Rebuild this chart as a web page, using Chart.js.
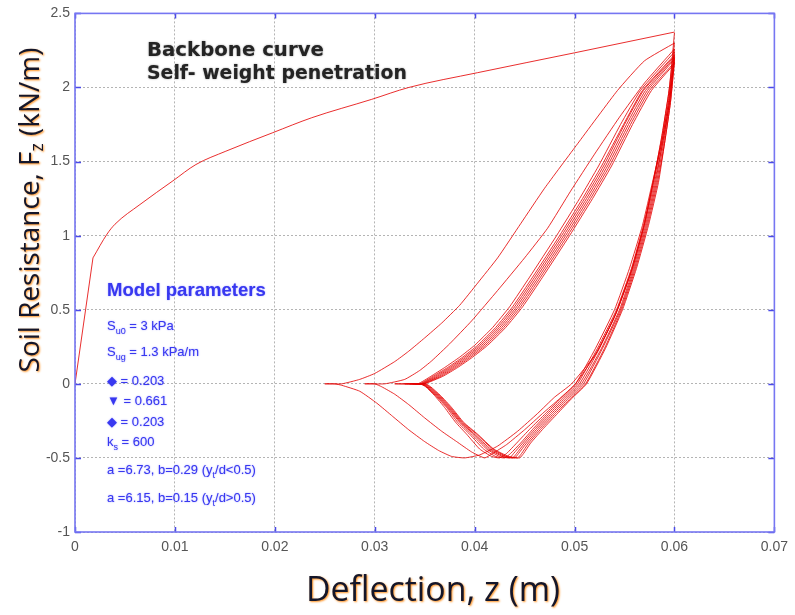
<!DOCTYPE html>
<html>
<head>
<meta charset="utf-8">
<script src="https://cdn.jsdelivr.net/npm/chart.js@4.4.1/dist/chart.umd.min.js"></script>
<style>
  body { margin: 0; background: #fff; }
  #wrap { width: 795px; height: 615px; }
</style>
</head>
<body>
<div id="wrap"><canvas id="myChart" width="795" height="615"></canvas></div>
<script>
// tick values and labels
var xTickValues = [0, 0.01, 0.02, 0.03, 0.04, 0.05, 0.06, 0.07];
var xTickLabels = ['0', '0.01', '0.02', '0.03', '0.04', '0.05', '0.06', '0.07'];
var yTickValues = [-1, -0.5, 0, 0.5, 1, 1.5, 2, 2.5];
var yTickLabels = ['-1', '-0.5', '0', '0.5', '1', '1.5', '2', '2.5'];

// backbone curve (z [m], Fz [kN/m])
var backbone = [[0, 0], [0.0018, 0.85], [0.0032, 1.01], [0.004, 1.077], [0.0065, 1.21], [0.0098, 1.37],
  [0.0121, 1.48], [0.0151, 1.57], [0.0198, 1.695], [0.0237, 1.796], [0.0297, 1.92], [0.0334, 2.0],
  [0.0403, 2.1], [0.05, 2.234], [0.06, 2.374]];

// cyclic loops: unload from z=0.06, suction, separation, reload
var cycle1 = [[0.06, 2.37], [0.0595, 2.0], [0.0588, 1.7], [0.058, 1.4], [0.057, 1.08], [0.0557, 0.76], [0.054, 0.45],
  [0.0521, 0.2], [0.0497, 0], [0.048, -0.09], [0.0463, -0.2], [0.0443, -0.32], [0.0423, -0.42], [0.0405, -0.48],
  [0.039, -0.5], [0.0377, -0.49], [0.0364, -0.45], [0.035, -0.39], [0.0334, -0.31], [0.0318, -0.22], [0.0302, -0.13],
  [0.0285, -0.05], [0.0267, -0.01], [0.026, 0], [0.025, 0],
  [0.0267, 0], [0.0285, 0.03], [0.03, 0.07], [0.032, 0.15], [0.0334, 0.22], [0.035, 0.31], [0.0367, 0.41],
  [0.0385, 0.53], [0.0403, 0.68], [0.0423, 0.85], [0.0446, 1.08], [0.047, 1.32], [0.0503, 1.62], [0.0543, 1.98],
  [0.057, 2.18], [0.06, 2.3]];
var cycle2 = [[0.06, 2.3], [0.0594, 1.95], [0.0587, 1.65], [0.0579, 1.38], [0.057, 1.08], [0.0557, 0.77], [0.0541, 0.47],
  [0.0522, 0.21], [0.0501, 0], [0.0485, -0.1], [0.0468, -0.2], [0.045, -0.31], [0.0432, -0.41], [0.0418, -0.47],
  [0.041, -0.5], [0.0397, -0.46], [0.0382, -0.39], [0.0367, -0.32], [0.035, -0.23], [0.0334, -0.14], [0.032, -0.07],
  [0.0307, -0.02], [0.03, 0], [0.029, 0],
  [0.031, 0], [0.033, 0.03], [0.0345, 0.09], [0.0357, 0.155], [0.0375, 0.27], [0.0397, 0.425], [0.0423, 0.63],
  [0.045, 0.85], [0.0473, 1.05], [0.0496, 1.3], [0.052, 1.55], [0.0545, 1.8], [0.057, 2.03], [0.06, 2.26]];
var cycle3 = [[0.06, 2.26], [0.0594, 1.9], [0.0587, 1.62], [0.0578, 1.36], [0.0568, 1.07], [0.0555, 0.78], [0.054, 0.5],
  [0.0521, 0.24], [0.0501, 0], [0.0486, -0.1], [0.0471, -0.2], [0.0456, -0.3], [0.0442, -0.4], [0.0432, -0.47],
  [0.0425, -0.5], [0.0417, -0.49], [0.0405, -0.44], [0.0392, -0.34], [0.0381, -0.26], [0.037, -0.16], [0.036, -0.08],
  [0.0351, -0.02], [0.0345, 0], [0.032, 0],
  [0.0343, 0], [0.0356, 0.05], [0.037, 0.11], [0.0385, 0.18], [0.04, 0.26], [0.0418, 0.38], [0.0435, 0.52],
  [0.0455, 0.72], [0.0482, 1.0], [0.0505, 1.25], [0.0524, 1.47], [0.0546, 1.75], [0.0566, 1.98], [0.06, 2.24]];
var cycle4 = [[0.06, 2.24], [0.0594, 1.9], [0.0587, 1.62], [0.0579, 1.36], [0.0569, 1.07], [0.0557, 0.78], [0.0542, 0.5],
  [0.0523, 0.24], [0.0503, 0], [0.0488, -0.1], [0.0473, -0.2], [0.0459, -0.3], [0.0446, -0.4], [0.0436, -0.47],
  [0.043, -0.5], [0.0421, -0.49], [0.0409, -0.44], [0.0395, -0.34], [0.0383, -0.26], [0.0372, -0.16], [0.0361, -0.08],
  [0.0352, -0.02], [0.0346, 0], [0.033, 0],
  [0.0345, 0], [0.0358, 0.05], [0.0373, 0.11], [0.0388, 0.18], [0.0403, 0.26], [0.0421, 0.38], [0.0438, 0.52],
  [0.0458, 0.72], [0.0485, 1.0], [0.0508, 1.25], [0.0527, 1.47], [0.0549, 1.75], [0.0568, 1.98], [0.06, 2.22]];
var cycle5 = [[0.06, 2.22], [0.0595, 1.9], [0.0588, 1.62], [0.058, 1.36], [0.057, 1.07], [0.0558, 0.78], [0.0543, 0.5],
  [0.0525, 0.24], [0.0505, 0], [0.049, -0.1], [0.0475, -0.2], [0.0461, -0.3], [0.0448, -0.4], [0.0439, -0.47],
  [0.0435, -0.5], [0.0425, -0.49], [0.0412, -0.44], [0.0397, -0.34], [0.0385, -0.26], [0.0373, -0.16], [0.0362, -0.08],
  [0.0352, -0.02], [0.0347, 0], [0.0335, 0],
  [0.0346, 0], [0.036, 0.05], [0.0375, 0.11], [0.039, 0.18], [0.0405, 0.26], [0.0423, 0.38], [0.044, 0.52],
  [0.046, 0.72], [0.0487, 1.0], [0.051, 1.25], [0.0529, 1.47], [0.055, 1.75], [0.0569, 1.98], [0.06, 2.21]];
var cycle6 = [[0.06, 2.21], [0.0595, 1.9], [0.0588, 1.62], [0.0581, 1.36], [0.0571, 1.07], [0.0559, 0.78], [0.0545, 0.5],
  [0.0527, 0.24], [0.0507, 0], [0.0492, -0.1], [0.0477, -0.2], [0.0463, -0.3], [0.045, -0.4], [0.0442, -0.47],
  [0.0438, -0.5], [0.0428, -0.49], [0.0414, -0.44], [0.0399, -0.34], [0.0386, -0.26], [0.0374, -0.16], [0.0363, -0.08],
  [0.0353, -0.02], [0.0348, 0], [0.0338, 0],
  [0.0347, 0], [0.0362, 0.05], [0.0377, 0.11], [0.0392, 0.18], [0.0407, 0.26], [0.0425, 0.38], [0.0442, 0.52],
  [0.0462, 0.72], [0.0489, 1.0], [0.0512, 1.25], [0.0531, 1.47], [0.0552, 1.75], [0.0571, 1.98], [0.06, 2.2]];
var cycle7 = [[0.06, 2.2], [0.0595, 1.9], [0.0589, 1.62], [0.0582, 1.36], [0.0572, 1.07], [0.056, 0.78], [0.0546, 0.5],
  [0.0528, 0.24], [0.0509, 0], [0.0494, -0.1], [0.0479, -0.2], [0.0465, -0.3], [0.0452, -0.4], [0.0444, -0.47],
  [0.044, -0.5], [0.043, -0.49], [0.0416, -0.44], [0.04, -0.34], [0.0387, -0.26], [0.0375, -0.16], [0.0364, -0.08],
  [0.0354, -0.02], [0.0349, 0], [0.034, 0],
  [0.0348, 0], [0.0364, 0.05], [0.0379, 0.11], [0.0394, 0.18], [0.0409, 0.26], [0.0427, 0.38], [0.0444, 0.52],
  [0.0464, 0.72], [0.0491, 1.0], [0.0514, 1.25], [0.0533, 1.47], [0.0554, 1.75], [0.0573, 1.98], [0.06, 2.19]];
var cycle8 = [[0.06, 2.19], [0.0596, 1.9], [0.059, 1.62], [0.0583, 1.36], [0.0573, 1.07], [0.0561, 0.78], [0.0547, 0.5],
  [0.053, 0.24], [0.0511, 0], [0.0496, -0.1], [0.0481, -0.2], [0.0467, -0.3], [0.0454, -0.4], [0.0447, -0.47],
  [0.0443, -0.5], [0.0432, -0.49], [0.0418, -0.44], [0.0402, -0.34], [0.0388, -0.26], [0.0376, -0.16], [0.0365, -0.08],
  [0.0355, -0.02], [0.035, 0], [0.0342, 0],
  [0.0349, 0], [0.0366, 0.05], [0.0381, 0.11], [0.0396, 0.18], [0.0411, 0.26], [0.0429, 0.38], [0.0446, 0.52],
  [0.0466, 0.72], [0.0493, 1.0], [0.0516, 1.25], [0.0535, 1.47], [0.0556, 1.75], [0.0575, 1.98], [0.06, 2.17]];
var cycle9 = [[0.06, 2.17], [0.0596, 1.9], [0.059, 1.62], [0.0584, 1.36], [0.0574, 1.07], [0.0562, 0.78], [0.0548, 0.5],
  [0.0531, 0.24], [0.0512, 0], [0.0497, -0.1], [0.0483, -0.2], [0.0469, -0.3], [0.0456, -0.4], [0.0449, -0.47],
  [0.0445, -0.5], [0.0434, -0.49], [0.0419, -0.44], [0.0403, -0.34], [0.0389, -0.26], [0.0377, -0.16], [0.0366, -0.08],
  [0.0356, -0.02], [0.0351, 0], [0.0344, 0],
  [0.035, 0], [0.0368, 0.05], [0.0383, 0.11], [0.0398, 0.18], [0.0413, 0.26], [0.0431, 0.38], [0.0448, 0.52],
  [0.0468, 0.72], [0.0495, 1.0], [0.0518, 1.25], [0.0537, 1.47], [0.0558, 1.75], [0.0577, 1.98], [0.06, 2.16]];

var cycles = [cycle1, cycle2, cycle3, cycle4, cycle5, cycle6, cycle7, cycle8, cycle9];

function toPoints(arr) {
  return arr.map(function (p) { return { x: p[0], y: p[1] }; });
}

function lineSet(points, extra) {
  var ds = {
    data: toPoints(points),
    showLine: true,
    borderColor: 'rgba(228,0,0,0.82)',
    borderWidth: 1,
    pointRadius: 0,
    fill: false
  };
  for (var k in extra) ds[k] = extra[k];
  return ds;
}

// backbone: straight initial elastic leg, then a smooth curve (kink kept sharp)
var datasets = [
  lineSet(backbone.slice(0, 2), { tension: 0 }),
  lineSet(backbone.slice(1), { cubicInterpolationMode: 'monotone' })
];
cycles.forEach(function (c) {
  datasets.push(lineSet(c, { tension: 0.15 }));
});

function fitSize(ctx, text, weight, family, targetW) {
  ctx.font = weight + ' 100px ' + family;
  return 100 * targetW / ctx.measureText(text).width;
}

// draws [text, isSub] parts starting at x, baseline y
function drawParts(ctx, x, y, parts, size, sub, family, weight) {
  parts.forEach(function (p) {
    if (p[1]) {
      ctx.font = weight + ' ' + sub + 'px ' + family;
      ctx.fillText(p[0], x, y + 4);
    } else {
      ctx.font = weight + ' ' + size + 'px ' + family;
      ctx.fillText(p[0], x, y);
    }
    x += ctx.measureText(p[0]).width;
  });
}
function partsWidth(ctx, parts, size, sub, family, weight) {
  var w = 0;
  parts.forEach(function (p) {
    ctx.font = weight + ' ' + (p[1] ? sub : size) + 'px ' + family;
    w += ctx.measureText(p[0]).width;
  });
  return w;
}

var decor = {
  id: 'decor',
  beforeDraw: function (chart) {
    var ctx = chart.ctx;
    ctx.save();
    ctx.fillStyle = '#fff';
    ctx.fillRect(0, 0, chart.width, chart.height);
    ctx.restore();
  },
  afterDraw: function (chart) {
    var ctx = chart.ctx, a = chart.chartArea;
    var xs = chart.scales.x, ys = chart.scales.y;
    ctx.save();
    // inward ticks
    ctx.strokeStyle = '#4a4ae8';
    ctx.lineWidth = 1.5;
    ctx.beginPath();
    xTickValues.forEach(function (v) {
      var px = Math.round(xs.getPixelForValue(v)) + 0.5;
      ctx.moveTo(px, a.bottom); ctx.lineTo(px, a.bottom - 5);
      ctx.moveTo(px, a.top); ctx.lineTo(px, a.top + 5);
    });
    yTickValues.forEach(function (v) {
      var py = Math.round(ys.getPixelForValue(v)) + 0.5;
      ctx.moveTo(a.left, py); ctx.lineTo(a.left + 6, py);
      ctx.moveTo(a.right, py); ctx.lineTo(a.right - 6, py);
    });
    ctx.stroke();
    // frame
    ctx.strokeStyle = '#7676f2';
    ctx.lineWidth = 1.6;
    ctx.strokeRect(a.left, a.top, a.right - a.left, a.bottom - a.top);

    // annotations
    ctx.fillStyle = '#242424';
    ctx.textBaseline = 'alphabetic';
    ctx.textAlign = 'left';
    ctx.shadowColor = 'rgba(0,0,0,0.4)';
    ctx.shadowBlur = 2;
    var fam = '"DejaVu Sans"';
    var s1 = fitSize(ctx, 'Backbone curve', 'bold', fam, 177);
    ctx.font = 'bold ' + s1 + 'px ' + fam;
    ctx.fillText('Backbone curve', 147, 56);
    var s2 = fitSize(ctx, 'Self- weight penetration', 'bold', fam, 260);
    ctx.font = 'bold ' + s2 + 'px ' + fam;
    ctx.fillText('Self- weight penetration', 147, 79);

    // model parameters
    ctx.shadowColor = 'rgba(40,40,255,0.5)';
    ctx.shadowBlur = 1.5;
    ctx.fillStyle = '#3838f0';
    var fam2 = '"Liberation Sans"';
    var s3 = fitSize(ctx, 'Model parameters', 'bold', fam2, 159);
    ctx.font = 'bold ' + s3 + 'px ' + fam2;
    ctx.fillText('Model parameters', 107, 296);
    var lines = [
      [[['S', 0], ['u0', 1], [' = 3 kPa', 0]], 330],
      [[['S', 0], ['ug', 1], [' = 1.3 kPa/m', 0]], 356],
      [[['\u25C6 = 0.203', 0]], 385],
      [[['\u25BC = 0.661', 0]], 405],
      [[['\u25C6 = 0.203', 0]], 426],
      [[['k', 0], ['s', 1], [' = 600', 0]], 446],
      [[['a =6.73, b=0.29 (y', 0], ['t', 1], ['/d<0.5)', 0]], 474],
      [[['a =6.15, b=0.15 (y', 0], ['t', 1], ['/d>0.5)', 0]], 502]
    ];
    lines.forEach(function (l) {
      drawParts(ctx, 107, l[1], l[0], 13, 9, fam2, 'normal');
    });

    // axis titles
    var fam3 = '"Open Sans"';
    ctx.shadowColor = 'rgba(255,140,20,0.95)';
    ctx.shadowBlur = 2;
    ctx.shadowOffsetX = 1;
    ctx.shadowOffsetY = 1;
    ctx.fillStyle = '#14162a';
    var xt = 'Deflection, z (m)';
    var s4 = fitSize(ctx, xt, '500', fam3, 254);
    ctx.font = '500 ' + s4 + 'px ' + fam3;
    ctx.textAlign = 'center';
    ctx.fillText(xt, 433, 601);

    ctx.textAlign = 'left';
    var yParts = [['Soil Resistance, F', 0], ['z', 1], [' (kN/m)', 0]];
    var base = 24, sub = 15;
    var w = partsWidth(ctx, yParts, base, sub, fam3, '500');
    var k = 325 / w;
    ctx.translate(39, 210);
    ctx.rotate(-Math.PI / 2);
    var tw = partsWidth(ctx, yParts, base * k, sub * k, fam3, '500');
    drawParts(ctx, -tw / 2, 0, yParts, base * k, sub * k, fam3, '500');
    ctx.restore();
  }
};

var ctx = document.getElementById('myChart');
var myChart = new Chart(ctx, {
  type: 'scatter',
  data: { datasets: datasets },
  options: {
    responsive: false,
    animation: false,
    layout: { padding: { top: 13, right: 17, left: 0, bottom: 0 } },
    plugins: { legend: { display: false }, tooltip: { enabled: false } },
    scales: {
      x: {
        type: 'linear',
        min: 0,
        max: 0.07,
        afterBuildTicks: function (s) { s.ticks = xTickValues.map(function (v) { return { value: v }; }); },
        afterFit: function (s) { s.height = 83; },
        ticks: {
          padding: 7,
          color: '#555',
          font: { family: '"Liberation Sans"', size: 14 },
          callback: function (v, i) { return xTickLabels[i]; }
        },
        grid: { color: '#b4b4b4', drawTicks: false },
        border: { display: false, dash: [2, 2] }
      },
      y: {
        type: 'linear',
        min: -1,
        max: 2.5,
        afterBuildTicks: function (s) { s.ticks = yTickValues.map(function (v) { return { value: v }; }); },
        afterFit: function (s) { s.width = 75; },
        ticks: {
          padding: 5,
          color: '#555',
          font: { family: '"Liberation Sans"', size: 14 },
          callback: function (v, i) { return yTickLabels[i]; }
        },
        grid: { color: '#b4b4b4', drawTicks: false },
        border: { display: false, dash: [2, 2] }
      }
    }
  },
  plugins: [decor]
});
</script>
</body>
</html>
